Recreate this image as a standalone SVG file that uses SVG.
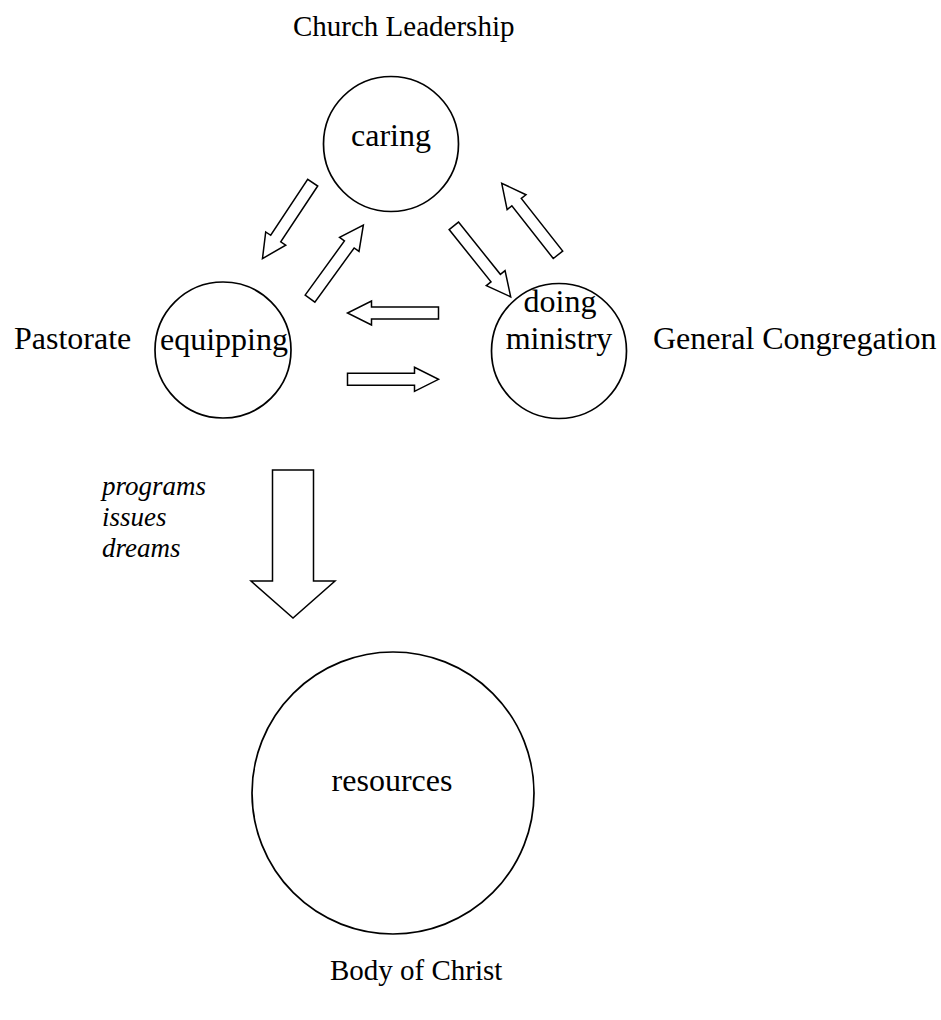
<svg xmlns="http://www.w3.org/2000/svg" xmlns:xlink="http://www.w3.org/1999/xlink" width="941" height="1020" viewBox="0 0 941 1020">
  <style>
    .bg { fill: #ffffff; }
    .node { fill: #ffffff; stroke: #000000; stroke-width: 1.7; }
    .blk { fill: #ffffff; stroke: #000000; stroke-width: 1.5; stroke-linejoin: miter; }
    .t { font-family: "Liberation Serif", "Times New Roman", serif; font-size: 32px; fill: #000000; }
    .ts { font-family: "Liberation Serif", "Times New Roman", serif; font-size: 29px; fill: #000000; }
    .tc { text-anchor: middle; }
    .it { font-family: "Liberation Serif", "Times New Roman", serif; font-size: 27px; font-style: italic; fill: #000000; }
  </style>
  <defs>
    <!-- block arrow pointing along +x, origin at the middle of the tail -->
    <polygon id="arr" class="blk" points="0,-6 67,-6 67,-12 91,0 67,12 67,6 0,6"/>
  </defs>
  <rect class="bg" x="0" y="0" width="941" height="1020"/>

  <g id="connectors">
    <use xlink:href="#arr" transform="translate(312.7,182.7) rotate(123.5)"/>
    <use xlink:href="#arr" transform="translate(310,298.7) rotate(-54.1)"/>
    <use xlink:href="#arr" transform="translate(453.8,225.8) rotate(51.3)"/>
    <use xlink:href="#arr" transform="translate(558,254.8) rotate(-128.2)"/>
    <use xlink:href="#arr" transform="translate(438.5,313) rotate(180)"/>
    <use xlink:href="#arr" transform="translate(347.5,379.3)"/>
    <polygon id="flow-down" class="blk" points="272.5,470 313.5,470 313.5,581 335,581 293,618 251,581 272.5,581"/>
  </g>

  <g id="caring">
    <circle class="node" cx="391" cy="144" r="67.5"/>
    <text class="t tc" x="391" y="146">caring</text>
  </g>

  <g id="equipping">
    <circle class="node" cx="223" cy="350" r="68"/>
    <text class="t tc" x="224" y="350">equipping</text>
  </g>

  <g id="doing-ministry">
    <circle class="node" cx="559" cy="351" r="67.5"/>
    <text class="t tc" x="560" y="312">doing</text>
    <text class="t tc" x="559" y="349">ministry</text>
  </g>

  <g id="resources">
    <circle class="node" cx="393" cy="793" r="141"/>
    <text class="t tc" x="392" y="791">resources</text>
  </g>

  <g id="label-church-leadership">
    <text class="ts" x="293" y="36">Church Leadership</text>
  </g>
  <g id="label-pastorate">
    <text class="t" x="14" y="349">Pastorate</text>
  </g>
  <g id="label-general-congregation">
    <text class="t" x="653" y="349">General Congregation</text>
  </g>
  <g id="label-flow">
    <text class="it" x="102" y="495"> programs</text>
    <text class="it" x="102" y="526">issues</text>
    <text class="it" x="102" y="557">dreams</text>
  </g>
  <g id="label-body-of-christ">
    <text class="ts" x="330" y="980">Body of Christ</text>
  </g>
</svg>
